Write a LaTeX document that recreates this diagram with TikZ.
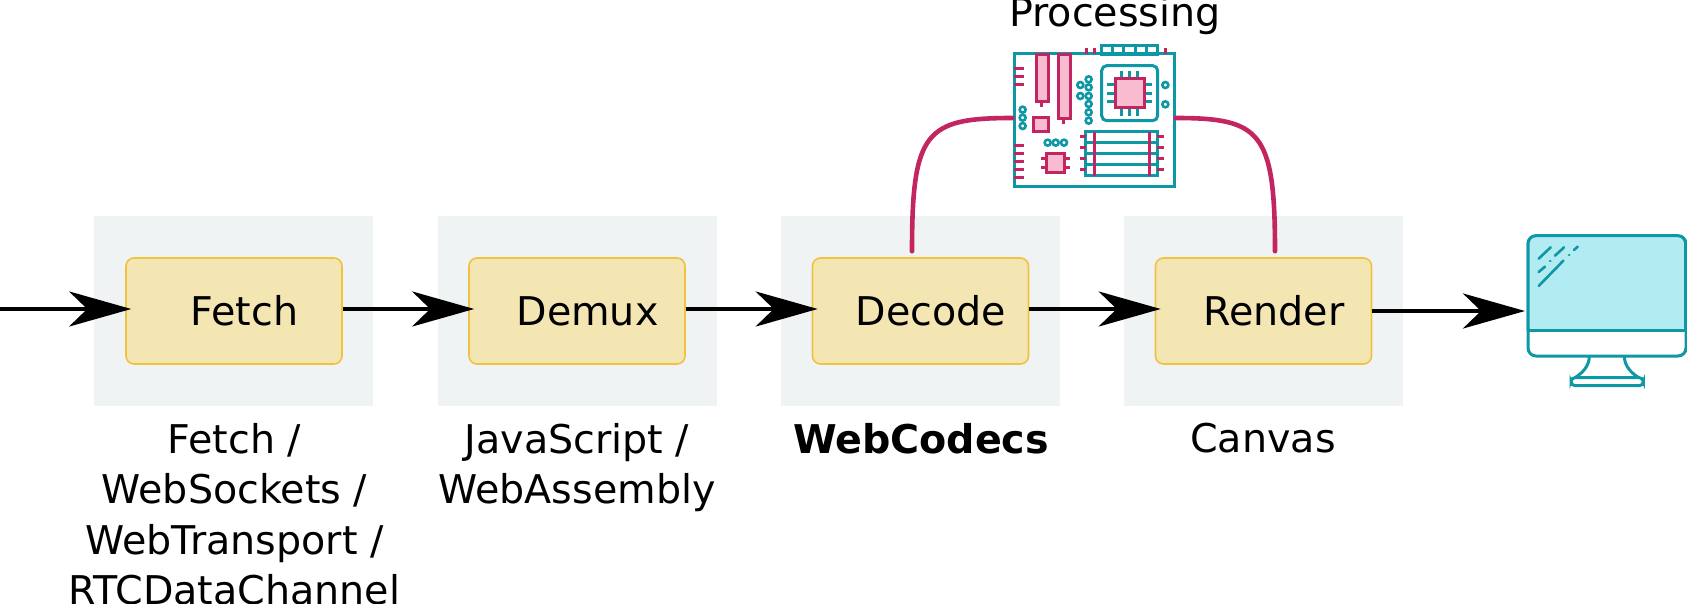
\documentclass[tikz,border=0pt]{standalone}
\usepackage{fontspec}
\setmainfont{DejaVu Sans}
\usetikzlibrary{arrows.meta, positioning, calc}
\definecolor{paneGray}{HTML}{F0F3F4}
\definecolor{stageFill}{HTML}{F3E6B3}
\definecolor{stageEdge}{HTML}{EFC23F}
\definecolor{boardTeal}{HTML}{0E97A5}
\definecolor{boardRed}{HTML}{C2255F}
\definecolor{boardPink}{HTML}{F8BBD0}
\definecolor{screenBlue}{HTML}{B2EBF2}

\begin{document}
\begin{tikzpicture}[
  x=1pt, y=-1pt,
  pane/.style={fill=paneGray, minimum width=279pt, minimum height=190pt, inner sep=0pt},
  stagebox/.style={fill=stageFill, draw=stageEdge, line width=1.6pt, rounded corners=8pt, minimum width=216pt, minimum height=106pt, inner sep=0pt, font=\fontsize{39.6}{46}\selectfont, execute at begin node=\hspace*{21pt}},
  apilabel/.style={anchor=north, align=center, inner sep=0pt, font=\fontsize{39.6}{50.5}\selectfont},
  flow/.style={-{Stealth[length=62pt, width=35pt, inset=18pt]}, line width=4pt, black, shorten >=-6pt},
  tapline/.style={line width=4.6pt, boardRed, line cap=round},
  teal/.style={draw=boardTeal, line width=3pt},
  red/.style={draw=boardRed, line width=3pt},
  redchip/.style={draw=boardRed, fill=boardPink, line width=3pt},
  pad/.style={draw=boardTeal, fill=white, line width=2.6pt},
  glare/.style={draw=boardTeal, line width=2.6pt, line cap=round}
]
  \useasboundingbox (0,0) rectangle (1687,604);

  \node[pane] (fetchpane) at (233.5, 311) {};
  \node[pane] (demuxpane) at (577, 311) {};
  \node[pane] (decodepane) at (920.5, 311) {};
  \node[pane] (renderpane) at (1263.5, 311) {};

  \node[stagebox] (fetch) at (234, 311) {Fetch};
  \node[stagebox] (demux) at (577, 311) {Demux};
  \node[stagebox] (decode) at (920.5, 311) {Decode};
  \node[stagebox] (render) at (1263.5, 311) {Render};

  \node[apilabel] (fetchapi) at (234.5, 423) {Fetch /\\WebSockets /\\WebTransport /\\RTCDataChannel};
  \node[apilabel] (demuxapi) at (577, 423) {JavaScript /\\WebAssembly};
  \node[apilabel] (decodeapi) at (921, 423) {\bfseries WebCodecs};
  \node[apilabel] (renderapi) at (1263, 423) {Canvas};

  \node[anchor=base, inner sep=0pt, font=\fontsize{39.6}{46}\selectfont] (processing) at (1115, 27) {Processing};

  % circuit board
  \node[draw=boardTeal, fill=white, line width=3pt, minimum width=160pt, minimum height=133pt, inner sep=0pt] (board) at (1094, 120.5) {};
  \begin{scope}[shift={(980,0)}, scale=1/3]
    \draw[teal] (365,138) rectangle (533,163);
    \foreach \x in {398,431,466,500} \draw[teal] (\x,138) -- (\x,163);
    \foreach \x in {318,342,556} \draw[red] (\x,145) -- (\x,163);
    \draw[redchip] (168,163) rectangle (205,304);
    \draw[red] (185,304) -- (185,322);
    \draw[redchip] (234,163) rectangle (270,355);
    \draw[red] (251,355) -- (251,372);
    \foreach \y in {205,230,255,436,460,485,510,534} \draw[red] (102,\y) -- (132,\y);
    \draw[redchip] (160,353) rectangle (205,396);
    % cpu socket
    \draw[teal, rounded corners=5pt] (365,197) rectangle (533,362);
    \foreach \x in {425,449,473} \draw[teal] (\x,212) -- (\x,347);
    \foreach \y in {255,280,305} \draw[teal] (382,\y) -- (517,\y);
    \draw[redchip] (407,237) rectangle (492,322);
    % small chip
    \foreach \y in {476,502} \draw[red] (183,\y) -- (270,\y);
    \draw[redchip] (200,460) rectangle (253,518);
    % memory block
    \draw[teal, fill=white] (316,395) rectangle (533,527);
    \foreach \y in {428,461,494} \draw[teal] (316,\y) -- (533,\y);
    \foreach \x in {342,507} \draw[red] (\x,395) -- (\x,527);
    \foreach \y in {411,444,477,510} {
      \draw[red] (299,\y) -- (318,\y);
      \draw[red] (530,\y) -- (551,\y);
    }
    \foreach \x/\y in {326/238,326/262,326/288,326/312,326/337,326/362,301/255,301/288,128/329,128/353,128/378,203/428,227/428,252/428,556/255,556/313}
      \draw[pad] (\x,\y) circle (9);
  \end{scope}

  % monitor
  \node[draw=boardTeal, fill=white, line width=3pt, rounded corners=8pt, minimum width=158pt, minimum height=120pt, inner sep=0pt] (monitor) at (1607, 296) {};
  \begin{scope}[shift={(1500,210)}, scale=1/3]
    \fill[screenBlue, rounded corners=8pt] (84,363) -- (84,77) -- (557,77) -- (557,363) -- cycle;
    \draw[teal, rounded corners=8pt] (84,363) -- (84,77) -- (557,77) -- (557,363);
    \draw[teal] (84,363) -- (557,363);
    \foreach \xa/\ya/\xb/\yb in {116/146/152/112,165/137/192/112,222/120/233/110,116/186/135/170,116/228/190/152,150/153/151/153,207/135/208/135}
      \draw[glare] (\xa,\ya) -- (\xb,\yb);
    \draw[teal] (268,438) .. controls (268,470) and (245,490) .. (225,503);
    \draw[teal] (373,438) .. controls (373,470) and (396,490) .. (416,503);
    \draw[teal, rounded corners=4pt] (213,503) rectangle (430,527);
  \end{scope}

  \coordinate (feed) at (0, 309);
  \coordinate (screenin) at (1525, 311);

  \draw[flow] (feed) -- (fetch.west |- feed);
  \draw[flow] ([yshift=2pt]fetch.east) -- ([yshift=2pt]demux.west);
  \draw[flow] ([yshift=2pt]demux.east) -- ([yshift=2pt]decode.west);
  \draw[flow] ([yshift=2pt]decode.east) -- ([yshift=2pt]render.west);
  \draw[flow, shorten >=0pt] (render.east) -- (screenin);

  \draw[tapline] ([xshift=-8.5pt, yshift=6pt]decode.north) .. controls +(0,-120) and +(-87,0) .. ([yshift=2.5pt]board.west);
  \draw[tapline] ([yshift=2.5pt]board.east) .. controls +(85,0) and +(0,-120) .. ([xshift=11.5pt, yshift=6pt]render.north);
\end{tikzpicture}
\end{document}
